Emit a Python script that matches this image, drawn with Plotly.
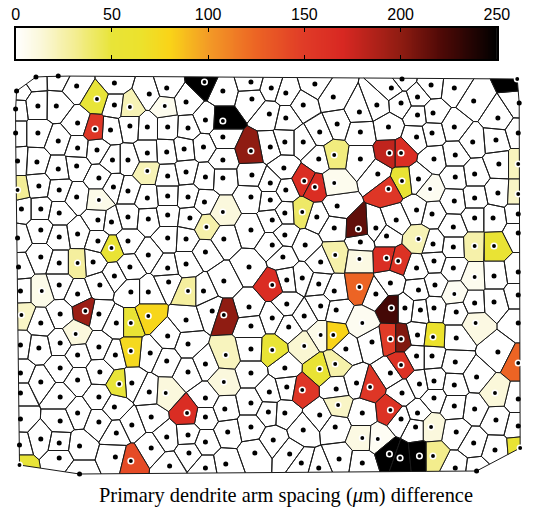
import numpy as np
import plotly.graph_objects as go
from plotly.colors import sample_colorscale

# Dendrite core positions with no spacing difference (value 0)
plain_x = [
    33, 56, 13, 75, 114, 150, 168, 35, 54, 114, 12, 76, 110, 130, 148, 169, 12, 35, 56, 76,
    96, 112, 128, 148, 168, 14, 34, 56, 75, 98, 113, 128, 169, 36, 57, 75, 148, 169,
    226, 255, 276, 291, 321, 340, 188, 208, 256, 274, 291, 309, 326, 344, 190, 226, 275, 290,
    309, 186, 206, 226, 325, 188, 208, 226, 256, 275, 289, 190, 207, 255, 275, 291,
    411, 367, 385, 400, 410, 427, 441, 465, 485, 510, 532, 427, 443, 397, 368, 426, 442, 465,
    484, 508, 531, 368, 444, 466, 486, 511, 386, 428, 466, 465, 486, 510,
    18, 38, 57, 97, 111, 128, 149, 169, 38, 14, 57, 76, 97, 128, 149, 169, 38, 15, 57, 92,
    130, 169, 114, 17, 57, 76, 99, 131, 149, 170, 38, 58, 98, 116, 169,
    192, 255, 277, 290, 323, 344, 341, 290, 188, 227, 277, 311, 208, 253, 288, 327, 188, 227,
    292, 308, 325, 341, 206, 215, 253, 292, 327, 343, 188, 255, 277, 294, 310,
    384, 405, 426, 442, 464, 486, 505, 531, 395, 368, 443, 464, 531, 426, 444, 464, 506, 531,
    384, 399, 428, 445, 486, 506, 531, 414, 430, 444, 467, 531, 427, 467,
    17, 36, 58, 76, 98, 115, 151, 168, 17, 38, 58, 76, 99, 132, 150, 17, 58, 76, 98, 114,
    17, 58, 98, 116, 132, 152, 168, 38, 57, 78, 16, 57, 115, 152, 171, 78,
    190, 255, 353, 190, 208, 255, 290, 274, 292, 343, 208, 228, 255, 273, 290, 326, 208, 190,
    231, 255, 278, 309, 342, 208, 259, 295, 307, 325, 191, 229, 208, 346,
    380, 426, 442, 466, 510, 364, 399, 411, 429, 444, 465, 488, 531, 370, 427, 444, 465, 486,
    508, 531, 410, 425, 467, 485, 507, 370, 466, 488,
]
plain_y = [
    77, 76, 91, 86, 83, 94, 88, 106, 106, 105, 109, 123, 130, 126, 127, 127, 133, 133, 141, 148,
    150, 160, 160, 153, 152, 161, 162, 169, 166, 178, 187, 191, 176, 186, 190, 197, 198, 196,
    91, 82, 88, 93, 84, 97, 102, 120, 99, 114, 118, 105, 132, 124, 128, 137, 147, 142,
    142, 149, 147, 160, 159, 172, 177, 178, 175, 183, 168, 197, 202, 197, 200, 190,
    79, 112, 105, 88, 103, 97, 85, 88, 101, 118, 103, 115, 113, 127, 132, 137, 133, 127,
    142, 140, 133, 159, 159, 155, 174, 164, 174, 179, 177, 201, 198, 193,
    209, 209, 213, 220, 222, 217, 219, 215, 230, 238, 237, 234, 241, 241, 255, 238, 257, 267, 263, 262,
    267, 268, 276, 291, 285, 294, 285, 292, 292, 282, 323, 314, 314, 323, 336,
    218, 230, 220, 213, 217, 206, 228, 235, 239, 239, 245, 245, 252, 267, 257, 262, 264, 281,
    280, 278, 284, 291, 291, 311, 307, 304, 306, 310, 320, 326, 318, 327, 316,
    228, 220, 210, 214, 227, 218, 218, 214, 236, 242, 244, 247, 233, 268, 261, 268, 276, 272,
    294, 283, 290, 285, 303, 302, 295, 308, 310, 308, 312, 323, 335, 338,
    345, 348, 343, 355, 347, 355, 353, 361, 373, 382, 368, 380, 372, 383, 392, 393, 397, 413, 397, 407,
    419, 421, 422, 433, 425, 417, 437, 439, 443, 446, 445, 458, 457, 448, 466, 474,
    344, 349, 349, 372, 364, 373, 368, 392, 387, 389, 398, 409, 403, 412, 413, 415, 417, 435,
    432, 427, 440, 430, 427, 442, 453, 454, 463, 468, 453, 464, 468, 459,
    342, 356, 356, 362, 352, 383, 373, 393, 384, 381, 385, 377, 399, 413, 413, 398, 406, 409,
    420, 426, 419, 427, 432, 443, 450, 463, 468, 471,
]

# Cores with a measured spacing difference (um)
diff_x = [
    96, 94, 130, 166, 148, 14, 98,
    207, 226, 255, 341, 310, 321, 341,
    530, 398, 410, 411, 397, 440, 531, 531,
    111, 76, 39, 18, 84, 131, 149, 74,
    226, 209, 308, 342, 277, 190, 227, 327, 340,
    366, 428, 395, 407, 367, 486, 506, 486, 367, 465, 400, 487, 370, 399, 410, 443,
    131, 119, 167, 131, 16,
    229, 277, 310, 326, 342, 227, 308, 345, 189,
    410, 531, 378, 399, 507, 441, 370, 386, 533, 398, 409, 429, 443,
]
diff_y = [
    99, 129, 107, 106, 171, 190, 200,
    82, 121, 151, 155, 181, 187, 183,
    79, 153, 153, 181, 189, 189, 164, 194,
    248, 263, 291, 315, 311, 323, 316, 334,
    212, 227, 212, 255, 285, 291, 315, 335, 335,
    229, 239, 258, 261, 259, 246, 246, 277, 287, 294, 308, 323, 323, 339, 339, 337,
    351, 384, 393, 461, 465,
    355, 350, 346, 369, 364, 382, 390, 405, 413,
    365, 363, 387, 410, 393, 427, 438, 439, 448, 454, 458, 456, 456,
]
diff_val = [
    50, 155, 22, 6, 22, 30, 8,
    250, 250, 200, 35, 165, 165, 6,
    250, 180, 165, 55, 155, 5, 20, 18,
    55, 28, 8, 18, 195, 55, 78, 12,
    12, 25, 40, 25, 165, 28, 200, 8, 80,
    215, 22, 165, 160, 10, 25, 55, 6, 125, 5, 225, 10, 5, 150, 205, 65,
    75, 50, 12, 140, 50,
    20, 52, 15, 55, 25, 12, 155, 18, 165,
    160, 125, 155, 160, 13, 12, 10, 4, 55, 250, 250, 250, 32,
]

bar_ticks = [0, 50, 100, 150, 200, 250]
vmax = 250

colorscale = [
    [0.00, "rgb(255,255,255)"],
    [0.05, "rgb(251,248,220)"],
    [0.12, "rgb(244,238,150)"],
    [0.20, "rgb(232,228,56)"],
    [0.26, "rgb(236,226,44)"],
    [0.32, "rgb(249,212,24)"],
    [0.40, "rgb(243,155,38)"],
    [0.50, "rgb(236,100,36)"],
    [0.60, "rgb(224,59,39)"],
    [0.68, "rgb(216,40,34)"],
    [0.80, "rgb(143,28,18)"],
    [0.88, "rgb(82,10,7)"],
    [1.00, "rgb(0,0,0)"],
]


def convex_hull(points):
    pts = sorted(set(points))

    def cross(o, a, b):
        return (a[0] - o[0]) * (b[1] - o[1]) - (a[1] - o[1]) * (b[0] - o[0])

    lower, upper = [], []
    for p in pts:
        while len(lower) >= 2 and cross(lower[-2], lower[-1], p) <= 0:
            lower.pop()
        lower.append(p)
    for p in reversed(pts):
        while len(upper) >= 2 and cross(upper[-2], upper[-1], p) <= 0:
            upper.pop()
        upper.append(p)
    return lower[:-1] + upper[:-1]


def clip(poly, a, b):
    """Keep the part of poly with a . p <= b."""
    out = []
    n = len(poly)
    for k in range(n):
        P, Q = poly[k], poly[(k + 1) % n]
        fp = a[0] * P[0] + a[1] * P[1] - b
        fq = a[0] * Q[0] + a[1] * Q[1] - b
        if fp <= 0:
            out.append(P)
        if (fp <= 0) != (fq <= 0):
            t = fp / (fp - fq)
            out.append((P[0] + t * (Q[0] - P[0]), P[1] + t * (Q[1] - P[1])))
    return out


def voronoi_cells(xs, ys):
    pts = np.column_stack([xs, ys]).astype(float)
    hull = [tuple(map(float, p)) for p in convex_hull([tuple(p) for p in pts])]
    cells = []
    for i, p in enumerate(pts):
        d = np.hypot(pts[:, 0] - p[0], pts[:, 1] - p[1])
        order = np.argsort(d)
        poly = list(hull)
        for j in order[1:]:
            r = max(np.hypot(v[0] - p[0], v[1] - p[1]) for v in poly)
            if d[j] / 2 > r:
                break
            q = pts[j]
            a = (q[0] - p[0], q[1] - p[1])
            m = ((q[0] + p[0]) / 2, (q[1] + p[1]) / 2)
            poly = clip(poly, a, a[0] * m[0] + a[1] * m[1])
            if not poly:
                break
        cells.append(poly)
    return cells


all_x = plain_x + diff_x
all_y = plain_y + diff_y
all_val = [0] * len(plain_x) + diff_val
cells = voronoi_cells(all_x, all_y)

fig = go.Figure()
edge = dict(color="#1a1a1a", width=1)

# white cells in one trace
wx, wy = [], []
for poly, v in zip(cells, all_val):
    if v == 0:
        wx += [c[0] for c in poly] + [poly[0][0], None]
        wy += [c[1] for c in poly] + [poly[0][1], None]
fig.add_trace(go.Scatter(x=wx, y=wy, mode="lines", fill="toself", fillcolor="white",
                         line=edge, hoverinfo="skip", xaxis="x", yaxis="y"))

# coloured cells
for poly, v in zip(cells, all_val):
    if v == 0:
        continue
    col = sample_colorscale(colorscale, [v / vmax])[0]
    fig.add_trace(go.Scatter(
        x=[c[0] for c in poly] + [poly[0][0]],
        y=[c[1] for c in poly] + [poly[0][1]],
        mode="lines", fill="toself", fillcolor=col, line=edge,
        hoverinfo="skip", xaxis="x", yaxis="y"))

# core markers
fig.add_trace(go.Scatter(x=plain_x, y=plain_y, mode="markers",
                         marker=dict(color="black", size=5, line=dict(width=0)),
                         hoverinfo="skip", xaxis="x", yaxis="y"))
fig.add_trace(go.Scatter(x=diff_x, y=diff_y, mode="markers",
                         marker=dict(color="black", size=5.5, line=dict(color="white", width=1.6)),
                         hoverinfo="skip", xaxis="x", yaxis="y"))

# colour bar drawn as a heatmap strip
bar_vals = np.linspace(0, vmax, 501)
fig.add_trace(go.Heatmap(x=bar_vals, y=[0.5], z=[bar_vals], colorscale=colorscale,
                         zmin=0, zmax=vmax, showscale=False, hoverinfo="skip",
                         xaxis="x2", yaxis="y2"))

fig.add_annotation(x=291, y=495, xref="x", yref="y", showarrow=False,
                   text="Primary dendrite arm spacing (<i>\u03bc</i>m) difference",
                   font=dict(family="Liberation Serif, Times New Roman, serif", size=20.4, color="black"))

fig.update_layout(
    width=538, height=510, margin=dict(l=0, r=0, t=0, b=0),
    paper_bgcolor="white", plot_bgcolor="white", showlegend=False,
    xaxis=dict(domain=[0, 1], range=[0, 538], visible=False, fixedrange=True),
    yaxis=dict(domain=[0, 1], range=[510, 0], visible=False, fixedrange=True),
    xaxis2=dict(domain=[12 / 538, 509 / 538], range=[0, vmax], anchor="y2", side="top",
                tickvals=bar_ticks, ticks="inside", ticklen=4, tickwidth=1.2, tickcolor="black",
                showline=True, linecolor="black", linewidth=1.5, mirror="allticks",
                showgrid=False, zeroline=False, fixedrange=True,
                tickfont=dict(family="Liberation Sans, Arial, sans-serif", size=16, color="black")),
    yaxis2=dict(domain=[1 - 59 / 510, 1 - 28 / 510], range=[0, 1], anchor="x2",
                showline=True, linecolor="black", linewidth=1.5, mirror=True,
                ticks="", showticklabels=False, showgrid=False, zeroline=False, fixedrange=True),
)

fig.write_html("out.html")
